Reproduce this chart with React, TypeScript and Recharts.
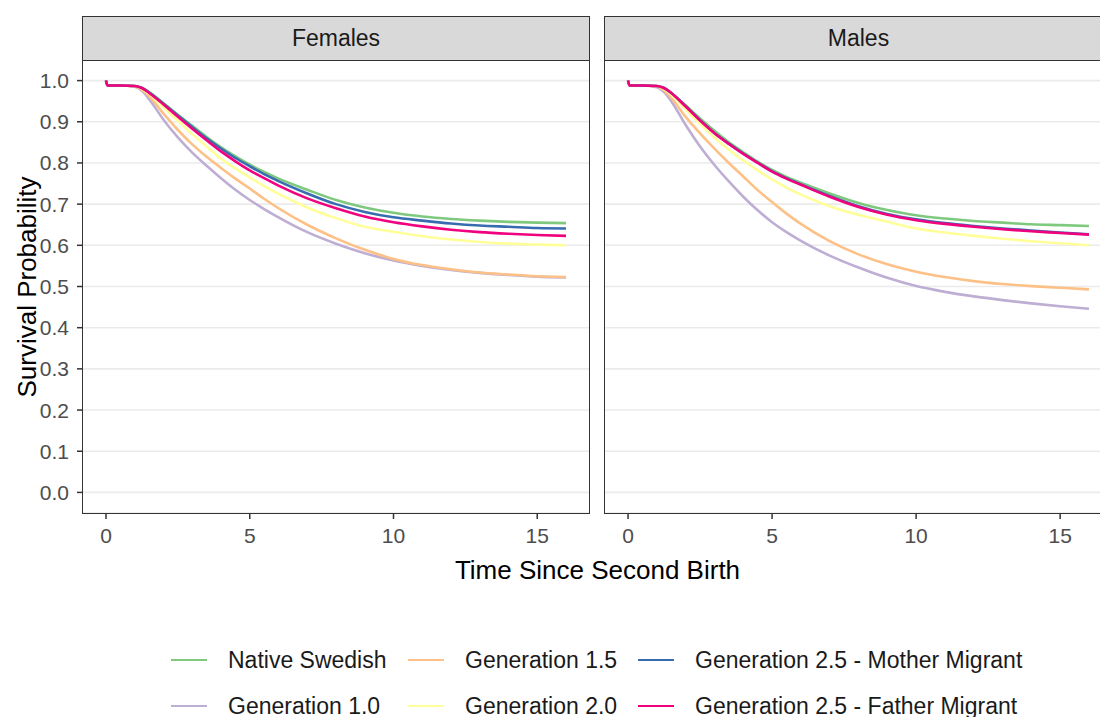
import React from 'react';
import { LineChart, Line, XAxis, YAxis, CartesianGrid } from 'recharts';

const FONT = '"Liberation Sans", Arial, Helvetica, sans-serif';

// Time since second birth (years)
const timePoints = [0, 0.05, 0.5, 1, 1.25, 1.5, 2, 2.5, 3, 3.5, 4, 4.5, 5, 5.5, 6, 7, 8, 9, 10, 11, 12, 13, 14, 15, 16];

const xTicks = [0, 5, 10, 15];
const yTicks = [0, 0.1, 0.2, 0.3, 0.4, 0.5, 0.6, 0.7, 0.8, 0.9, 1.0];

const panelLabels = ['Females', 'Males'];
const seriesKeys = ['native', 'g10', 'g15', 'g20', 'mother', 'father'];
const seriesNames = [
  'Native Swedish',
  'Generation 1.0',
  'Generation 1.5',
  'Generation 2.0',
  'Generation 2.5 - Mother Migrant',
  'Generation 2.5 - Father Migrant',
];
const seriesColors = ['#7fc97f', '#beaed4', '#fdc086', '#ffff99', '#386cb0', '#f0027f'];

// Females
const femNative = [1, 0.988, 0.988, 0.987, 0.982, 0.972, 0.945, 0.917, 0.89, 0.863, 0.838, 0.816, 0.796, 0.778, 0.762, 0.735, 0.71, 0.692, 0.679, 0.67, 0.664, 0.66, 0.657, 0.655, 0.654];
const femG10 = [1, 0.988, 0.988, 0.985, 0.975, 0.955, 0.905, 0.862, 0.825, 0.793, 0.763, 0.735, 0.71, 0.688, 0.668, 0.632, 0.604, 0.581, 0.563, 0.55, 0.54, 0.533, 0.528, 0.524, 0.522];
const femG15 = [1, 0.988, 0.988, 0.986, 0.978, 0.962, 0.92, 0.88, 0.845, 0.815, 0.788, 0.762, 0.738, 0.713, 0.69, 0.65, 0.617, 0.589, 0.567, 0.552, 0.542, 0.534, 0.529, 0.525, 0.523];
const femG20 = [1, 0.988, 0.988, 0.987, 0.98, 0.968, 0.935, 0.903, 0.87, 0.84, 0.81, 0.787, 0.765, 0.744, 0.725, 0.692, 0.666, 0.645, 0.633, 0.622, 0.614, 0.608, 0.604, 0.602, 0.6];
const femMother = [1, 0.988, 0.988, 0.987, 0.982, 0.971, 0.944, 0.915, 0.887, 0.86, 0.835, 0.812, 0.792, 0.773, 0.756, 0.726, 0.7, 0.681, 0.668, 0.66, 0.653, 0.648, 0.645, 0.642, 0.641];
const femFather = [1, 0.988, 0.988, 0.987, 0.982, 0.97, 0.942, 0.912, 0.883, 0.855, 0.828, 0.804, 0.782, 0.763, 0.745, 0.714, 0.69, 0.67, 0.656, 0.646, 0.638, 0.632, 0.628, 0.625, 0.623];

// Males
const malNative = [1, 0.988, 0.988, 0.987, 0.982, 0.97, 0.94, 0.908, 0.878, 0.85, 0.826, 0.803, 0.783, 0.766, 0.752, 0.726, 0.703, 0.686, 0.673, 0.665, 0.659, 0.655, 0.651, 0.649, 0.647];
const malG10 = [1, 0.988, 0.988, 0.984, 0.972, 0.95, 0.892, 0.84, 0.795, 0.755, 0.718, 0.685, 0.656, 0.632, 0.611, 0.575, 0.546, 0.521, 0.501, 0.487, 0.476, 0.467, 0.459, 0.452, 0.446];
const malG15 = [1, 0.988, 0.988, 0.985, 0.976, 0.958, 0.912, 0.872, 0.835, 0.8, 0.767, 0.734, 0.705, 0.677, 0.652, 0.61, 0.578, 0.554, 0.536, 0.523, 0.513, 0.506, 0.501, 0.497, 0.493];
const malG20 = [1, 0.988, 0.988, 0.987, 0.98, 0.966, 0.93, 0.895, 0.862, 0.832, 0.806, 0.782, 0.76, 0.74, 0.723, 0.695, 0.674, 0.657, 0.641, 0.631, 0.623, 0.616, 0.61, 0.605, 0.6];
const malMother = [1, 0.988, 0.988, 0.987, 0.982, 0.97, 0.938, 0.904, 0.873, 0.847, 0.823, 0.801, 0.78, 0.763, 0.748, 0.72, 0.695, 0.676, 0.663, 0.654, 0.647, 0.641, 0.636, 0.631, 0.627];
const malFather = [1, 0.988, 0.988, 0.987, 0.982, 0.97, 0.937, 0.903, 0.872, 0.846, 0.822, 0.8, 0.779, 0.762, 0.747, 0.718, 0.693, 0.674, 0.661, 0.652, 0.645, 0.639, 0.634, 0.63, 0.626];

const buildRows = (cols: number[][]) =>
  timePoints.map((t, i) => {
    const row: Record<string, number> = { t };
    seriesKeys.forEach((k, j) => {
      row[k] = cols[j][i];
    });
    return row;
  });

const femaleData = buildRows([femNative, femG10, femG15, femG20, femMother, femFather]);
const maleData = buildRows([malNative, malG10, malG15, malG20, malMother, malFather]);

const PANEL_TOP = 60;
const PANEL_BOTTOM = 513;
const CHART_H = 560;

type PanelProps = {
  left: number;
  width: number;
  yAxisWidth: number;
  showY: boolean;
  data: Record<string, number>[];
  label: string;
  plotLeft: number;
  plotRight: number;
};

const Panel = ({ left, width, yAxisWidth, showY, data, label, plotLeft, plotRight }: PanelProps) => (
  <>
    <div style={{ position: 'absolute', left, top: 0 }}>
      <LineChart
        width={width}
        height={CHART_H}
        data={data}
        margin={{ top: PANEL_TOP, right: 0, left: 0, bottom: 0 }}
      >
        <CartesianGrid vertical={false} stroke="#ebebeb" strokeWidth={1.6} />
        <XAxis
          dataKey="t"
          type="number"
          domain={[-0.8, 16.8]}
          ticks={xTicks}
          allowDataOverflow
          axisLine={false}
          tickLine={{ stroke: '#333333', strokeWidth: 1.5 }}
          tickSize={6}
          tickMargin={9}
          height={CHART_H - PANEL_BOTTOM}
          tick={{ fill: '#4d4d4d', fontSize: 21, fontFamily: FONT }}
        />
        <YAxis
          type="number"
          domain={[-0.05, 1.05]}
          ticks={yTicks}
          allowDataOverflow
          hide={!showY}
          width={yAxisWidth}
          axisLine={false}
          tickLine={{ stroke: '#333333', strokeWidth: 1.5 }}
          tickSize={6}
          tickMargin={8}
          tickFormatter={(v: number) => v.toFixed(1)}
          tick={{ fill: '#4d4d4d', fontSize: 21, fontFamily: FONT }}
        />
        {seriesKeys.map((k, i) => (
          <Line
            key={k}
            dataKey={k}
            name={seriesNames[i]}
            type="monotone"
            stroke={seriesColors[i]}
            strokeWidth={2.6}
            dot={false}
            activeDot={false}
            isAnimationActive={false}
          />
        ))}
      </LineChart>
    </div>
    {/* panel border */}
    <div
      style={{
        position: 'absolute',
        left: plotLeft - 0.75,
        top: PANEL_TOP - 0.75,
        width: plotRight - plotLeft + 1.5,
        height: PANEL_BOTTOM - PANEL_TOP + 1.5,
        border: '1.5px solid #333333',
        boxSizing: 'border-box',
        pointerEvents: 'none',
      }}
    />
    {/* strip */}
    <div
      style={{
        position: 'absolute',
        left: plotLeft - 0.75,
        top: 15.5,
        width: plotRight - plotLeft + 1.5,
        height: PANEL_TOP - 15.5 + 0.75,
        background: '#d9d9d9',
        border: '1.5px solid #333333',
        boxSizing: 'border-box',
        display: 'flex',
        alignItems: 'center',
        justifyContent: 'center',
        fontFamily: FONT,
        fontSize: 23,
        lineHeight: 1,
        color: '#1a1a1a',
      }}
    >
      {label}
    </div>
  </>
);

const legendKeyX = [171, 408, 638];
const legendRowY = [660, 706];

export default function App() {
  return (
    <div
      style={{
        position: 'absolute',
        left: 0,
        top: 0,
        width: 1100,
        height: 717,
        overflow: 'hidden',
        background: '#ffffff',
        fontFamily: FONT,
      }}
    >
      <Panel
        left={0}
        width={589}
        yAxisWidth={83}
        showY
        data={femaleData}
        label={panelLabels[0]}
        plotLeft={83}
        plotRight={589}
      />
      <Panel
        left={605}
        width={507}
        yAxisWidth={0}
        showY={false}
        data={maleData}
        label={panelLabels[1]}
        plotLeft={605}
        plotRight={1112}
      />
      {/* y axis title */}
      <div
        style={{
          position: 'absolute',
          left: 27,
          top: 287,
          transform: 'translate(-50%, -50%) rotate(-90deg)',
          whiteSpace: 'nowrap',
          fontSize: 26,
          lineHeight: 1,
          color: '#000000',
        }}
      >
        Survival Probability
      </div>
      {/* x axis title */}
      <div
        style={{
          position: 'absolute',
          left: 597.5,
          top: 557,
          transform: 'translateX(-50%)',
          whiteSpace: 'nowrap',
          fontSize: 26,
          lineHeight: 1,
          color: '#000000',
        }}
      >
        Time Since Second Birth
      </div>
      {/* legend */}
      {seriesNames.map((name, i) => {
        const col = Math.floor(i / 2);
        const row = i % 2;
        return (
          <div
            key={name}
            style={{
              position: 'absolute',
              left: legendKeyX[col],
              top: legendRowY[row] - 15,
              height: 30,
              display: 'flex',
              alignItems: 'center',
              whiteSpace: 'nowrap',
            }}
          >
            <span style={{ display: 'inline-block', width: 36, height: 2.4, background: seriesColors[i] }} />
            <span style={{ marginLeft: 21, fontSize: 23, lineHeight: 1, color: '#1a1a1a' }}>{name}</span>
          </div>
        );
      })}
    </div>
  );
}
